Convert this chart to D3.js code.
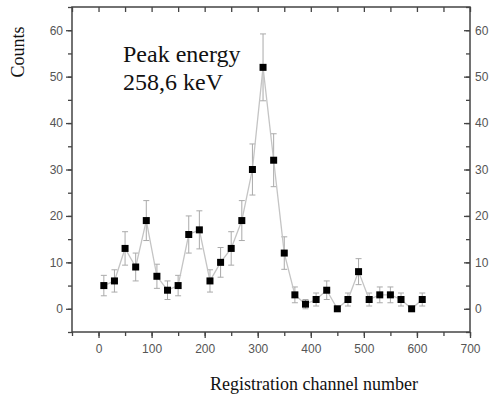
<!DOCTYPE html>
<html>
<head>
<meta charset="utf-8">
<script src="https://cdn.jsdelivr.net/npm/d3@7"></script>
<style>
  body { margin: 0; background: #fff; }
</style>
</head>
<body>
<div class="container"></div>
<script>
var channels = [10, 30, 50, 70, 90, 110, 130, 150, 170, 190, 210, 230, 250, 270, 290, 310,
  330, 350, 370, 390, 410, 430, 450, 470, 490, 510, 530, 550, 570, 590, 610];
var counts = [5, 6, 13, 9, 19, 7, 4, 5, 16, 17, 6, 10, 13, 19, 30, 52,
  32, 12, 3, 1, 2, 4, 0, 2, 8, 2, 3, 3, 2, 0, 2];
var errors = [2.2, 2.4, 3.6, 3, 4.3, 2.6, 2, 2.2, 4, 4.1, 2.4, 3.2, 3.6, 4.3, 5.5, 7.2,
  5.7, 3.5, 1.7, 1, 1.4, 2, 0, 1.4, 2.8, 1.4, 1.7, 1.7, 1.4, 0, 1.4];
var xTicks = [0, 100, 200, 300, 400, 500, 600, 700];
var yTicks = [0, 10, 20, 30, 40, 50, 60];
var noteLines = ['Peak energy', '258,6 keV'];

var data = channels.map(function(c, i) {
  return { ch: c, n: counts[i], err: errors[i] };
});

buildChart();

function buildChart() {

  /* ===== SET UP CHART =====*/

  var w = 491;
  var h = 396;
  var left = 72, right = 470, top = 7, bottom = 332;

  var svg = d3.select('.container')
    .append('svg')
    .attr('width', w)
    .attr('height', h);

  var xScale = d3.scaleLinear()
    .domain([-50, 700])
    .range([left, right]);

  var yScale = d3.scaleLinear()
    .domain([-5, 65])
    .range([bottom, top]);

  var tickFont = '12px "Liberation Sans", Arial, sans-serif';
  var axisColor = '#444';
  var labelColor = '#555';

  /* ===== AXES =====*/

  function styleAxis(g) {
    g.style('font', tickFont);
    g.select('.domain').remove();
    g.selectAll('line').attr('stroke', axisColor).attr('stroke-width', 1.3);
    g.selectAll('text').attr('fill', labelColor);
  }

  // minor ticks first (no labels)
  svg.append('g')
    .attr('transform', 'translate(' + left + ',0)')
    .call(d3.axisLeft(yScale).tickValues(d3.range(-5, 66, 5)).tickSize(4).tickFormat(''))
    .call(styleAxis);
  svg.append('g')
    .attr('transform', 'translate(0,' + bottom + ')')
    .call(d3.axisBottom(xScale).tickValues(d3.range(-50, 701, 50)).tickSize(4).tickFormat(''))
    .call(styleAxis);
  svg.append('g')
    .attr('transform', 'translate(' + right + ',0)')
    .call(d3.axisRight(yScale).tickValues(d3.range(-5, 66, 5)).tickSize(-4).tickFormat(''))
    .call(styleAxis);
  svg.append('g')
    .attr('transform', 'translate(0,' + top + ')')
    .call(d3.axisTop(xScale).tickValues(d3.range(-50, 701, 50)).tickSize(-5).tickFormat(''))
    .call(styleAxis);

  // major ticks with labels
  svg.append('g')
    .attr('transform', 'translate(' + left + ',0)')
    .call(d3.axisLeft(yScale).tickValues(yTicks).tickSize(6).tickPadding(3))
    .call(styleAxis);
  svg.append('g')
    .attr('transform', 'translate(0,' + bottom + ')')
    .call(d3.axisBottom(xScale).tickValues(xTicks).tickSize(6).tickPadding(6))
    .call(styleAxis);
  var rightAxis = svg.append('g')
    .attr('transform', 'translate(' + right + ',0)')
    .call(d3.axisRight(yScale).tickValues(yTicks).tickSize(-6).tickPadding(4))
    .call(styleAxis);
  rightAxis.selectAll('text').attr('x', 5);

  // frame
  svg.append('rect')
    .attr('x', left)
    .attr('y', top)
    .attr('width', right - left)
    .attr('height', bottom - top)
    .attr('fill', 'none')
    .attr('stroke', axisColor)
    .attr('stroke-width', 1.5);

  /* ===== ERROR BARS =====*/

  var errColor = '#aaa';
  var bars = svg.append('g')
    .selectAll('g')
    .data(data.filter(function(d) { return d.err > 0; }))
    .enter()
    .append('g')
    .attr('stroke', errColor)
    .attr('stroke-width', 1);

  bars.append('line')
    .attr('x1', function(d) { return xScale(d.ch); })
    .attr('x2', function(d) { return xScale(d.ch); })
    .attr('y1', function(d) { return yScale(d.n - d.err); })
    .attr('y2', function(d) { return yScale(d.n + d.err); });

  [-1, 1].forEach(function(s) {
    bars.append('line')
      .attr('x1', function(d) { return xScale(d.ch) - 3; })
      .attr('x2', function(d) { return xScale(d.ch) + 3; })
      .attr('y1', function(d) { return yScale(d.n + s * d.err); })
      .attr('y2', function(d) { return yScale(d.n + s * d.err); });
  });

  /* ===== LINE =====*/

  var line = d3.line()
    .x(function(d) { return xScale(d.ch); })
    .y(function(d) { return yScale(d.n); });

  svg.append('path')
    .datum(data)
    .attr('d', line)
    .attr('fill', 'none')
    .attr('stroke', '#c4c4c4')
    .attr('stroke-width', 1.3);

  /* ===== MARKERS =====*/

  var sq = 7;
  svg.append('g')
    .selectAll('rect')
    .data(data)
    .enter()
    .append('rect')
    .attr('x', function(d) { return xScale(d.ch) - sq / 2; })
    .attr('y', function(d) { return yScale(d.n) - sq / 2; })
    .attr('width', sq)
    .attr('height', sq)
    .attr('fill', '#000');

  /* ===== TEXT =====*/

  var serif = '"Liberation Serif", "Times New Roman", serif';

  svg.append('text')
    .selectAll('tspan')
    .data(noteLines)
    .enter()
    .append('tspan')
    .attr('x', 123)
    .attr('y', function(d, i) { return 62 + i * 28; })
    .text(function(d) { return d; })
    .attr('font-family', serif)
    .attr('font-size', '24px')
    .attr('fill', '#111');

  svg.append('text')
    .text('Counts')
    .attr('transform', 'translate(24,52) rotate(-90)')
    .attr('text-anchor', 'middle')
    .attr('font-family', serif)
    .attr('font-size', '18px')
    .attr('fill', '#111');

  svg.append('text')
    .text('Registration channel number')
    .attr('x', 314)
    .attr('y', 390)
    .attr('text-anchor', 'middle')
    .attr('font-family', serif)
    .attr('font-size', '18px')
    .attr('fill', '#111');
}
</script>
</body>
</html>
